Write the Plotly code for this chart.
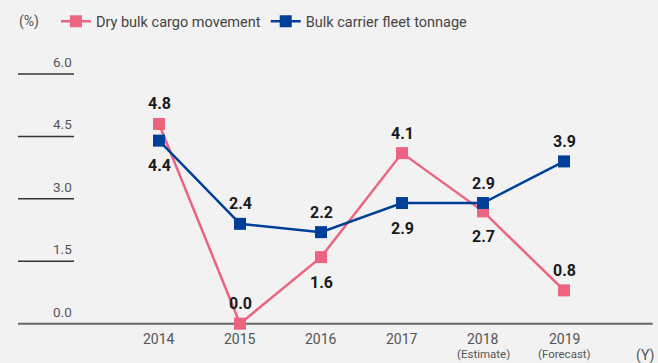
import plotly.graph_objects as go

years = ["2014", "2015", "2016", "2017", "2018", "2019"]
year_notes = ["", "", "", "", "(Estimate)", "(Forecast)"]
cargo = [4.8, 0.0, 1.6, 4.1, 2.7, 0.8]
fleet = [4.4, 2.4, 2.2, 2.9, 2.9, 3.9]
# +1 puts the value label above the point, -1 below it
cargo_side = [1, 1, -1, 1, -1, 1]
fleet_side = [-1, 1, 1, -1, 1, 1]
y_ticks = [0.0, 1.5, 3.0, 4.5, 6.0]

PINK = "#ec6480"
BLUE = "#003f98"
BG = "#f2f2f2"
FONT = "Roboto"

idx = list(range(len(years)))

fig = go.Figure()
fig.add_trace(go.Scatter(
    x=idx, y=cargo, name="Dry bulk cargo movement",
    mode="lines+markers",
    line=dict(color=PINK, width=2.5),
    marker=dict(symbol="square", size=12, color=PINK),
))
fig.add_trace(go.Scatter(
    x=idx, y=fleet, name="Bulk carrier fleet tonnage",
    mode="lines+markers",
    line=dict(color=BLUE, width=2.5),
    marker=dict(symbol="square", size=12, color=BLUE),
))

shapes = []
annotations = []

# value labels
for series, sides in ((cargo, cargo_side), (fleet, fleet_side)):
    for i, (v, s) in enumerate(zip(series, sides)):
        annotations.append(dict(x=i, y=v, text=f"<b>{v:.1f}</b>", showarrow=False,
                                xanchor="center", yanchor="middle",
                                yshift=20 if s > 0 else -25,
                                font=dict(family=FONT, size=16, color="#1a1a1a")))

# short reference rules with value labels on the left
for t in y_ticks:
    x1 = 0.992 if t == 0 else 0.1125
    shapes.append(dict(type="line", xref="paper", yref="y", x0=0.0274, x1=x1, y0=t, y1=t,
                       line=dict(color="#666666" if t == 0 else "#333333", width=2 if t == 0 else 1.5),
                       layer="below"))
    annotations.append(dict(xref="paper", yref="y", x=0.1125, y=t, text=f"{t:.1f}",
                            showarrow=False, xanchor="right", yanchor="bottom", yshift=2,
                            font=dict(family=FONT, size=13.5, color="#555555")))

# category labels under the baseline
for i, (yr, note) in enumerate(zip(years, year_notes)):
    annotations.append(dict(x=i, y=0, text=yr, showarrow=False, yshift=-15,
                            xanchor="center", yanchor="middle",
                            font=dict(family=FONT, size=14, color="#555555")))
    if note:
        annotations.append(dict(x=i, y=0, text=note, showarrow=False, yshift=-30,
                                xanchor="center", yanchor="middle",
                                font=dict(family=FONT, size=11.5, color="#555555")))

annotations.append(dict(xref="paper", yref="paper", x=0.997, y=0.022, text="(Y)", showarrow=False,
                        xanchor="right", yanchor="middle",
                        font=dict(family=FONT, size=14, color="#555555")))
annotations.append(dict(xref="paper", yref="paper", x=0.026, y=0.94, text="(%)", showarrow=False,
                        xanchor="left", yanchor="middle",
                        font=dict(family=FONT, size=14, color="#555555")))

fig.update_layout(
    width=658, height=363,
    margin=dict(l=0, r=0, t=0, b=0),
    paper_bgcolor=BG, plot_bgcolor=BG,
    showlegend=True,
    legend=dict(orientation="h", x=0.085, y=0.985, xanchor="left", yanchor="top",
                bgcolor="rgba(0,0,0,0)", font=dict(family=FONT, size=14.5, color="#444444"),
                itemwidth=30, tracegroupgap=0),
    xaxis=dict(range=[-1.963, 6.16], visible=False, fixedrange=True),
    yaxis=dict(range=[-0.945, 7.78], visible=False, fixedrange=True),
    shapes=shapes,
    annotations=annotations,
)

fig.write_html("out.html")
